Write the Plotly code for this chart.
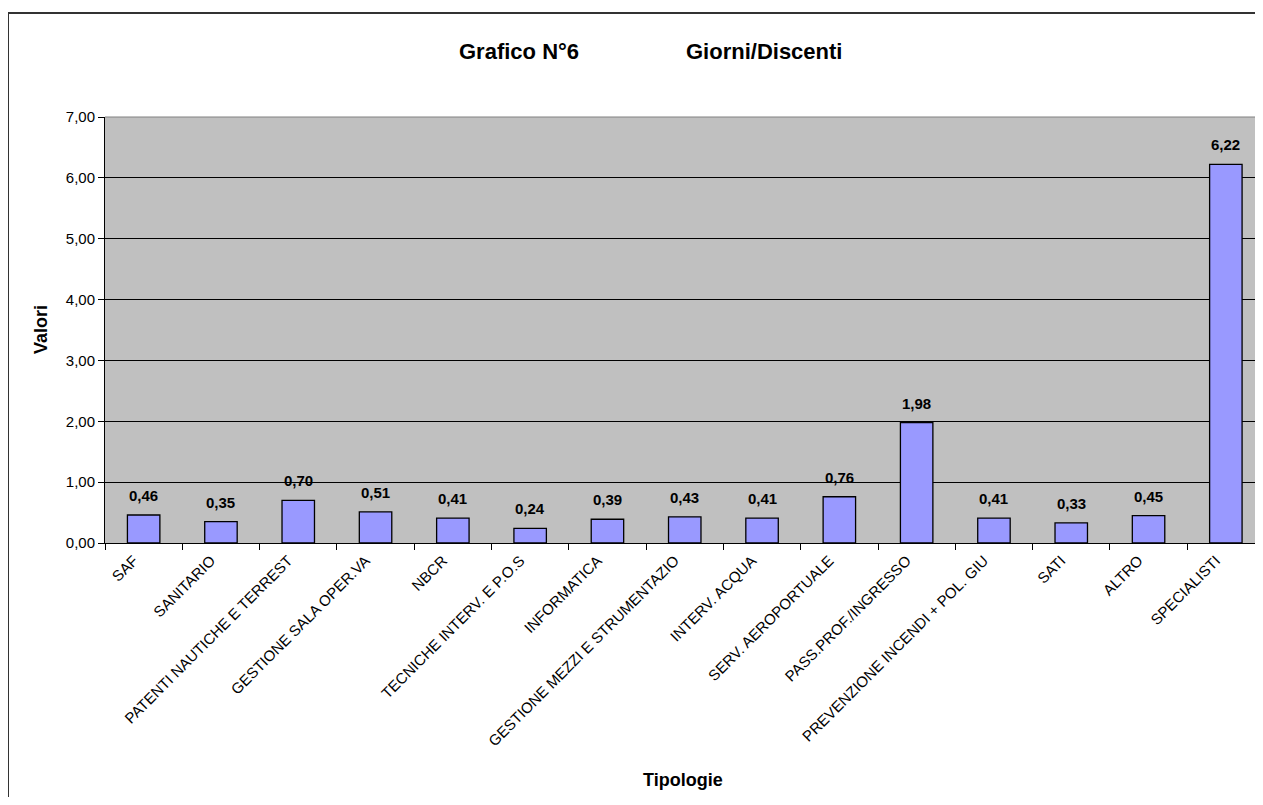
import plotly.graph_objects as go

categories = [
    "SAF", "SANITARIO", "PATENTI NAUTICHE E TERREST", "GESTIONE SALA OPER.VA",
    "NBCR", "TECNICHE INTERV. E P.O.S", "INFORMATICA", "GESTIONE MEZZI E STRUMENTAZIO",
    "INTERV. ACQUA", "SERV. AEROPORTUALE", "PASS.PROF./INGRESSO",
    "PREVENZIONE INCENDI + POL. GIU", "SATI", "ALTRO", "SPECIALISTI",
]
values = [0.46, 0.35, 0.70, 0.51, 0.41, 0.24, 0.39, 0.43, 0.41, 0.76, 1.98, 0.41, 0.33, 0.45, 6.22]
y_ticks = [0, 1, 2, 3, 4, 5, 6, 7]
title_left = "Grafico N°6"
title_right = "Giorni/Discenti"
x_title = "Tipologie"
y_title = "Valori"

FONT = "Liberation Sans, Arial, sans-serif"

# page body has an 8px margin; size the figure so that it fits without scrollbars
OFF = 8
W, H = 1247, 789
L, R, T, B = 97, 0, 109, 254
pw, ph = W - L - R, H - T - B
slot_px = 77.3
x_span = pw / slot_px

def sx(px):  # screen px -> paper x
    return (px - OFF - L) / pw

def sy(py):  # screen px -> paper y
    return (H - B - (py - OFF)) / ph

fig = go.Figure()
fig.add_trace(go.Bar(
    x=categories, y=values,
    marker=dict(color="#9999FF", line=dict(color="#000000", width=1.3)),
    hoverinfo="x+y",
))

annotations = []
for c, v in zip(categories, values):
    annotations.append(dict(
        x=c, y=v, xref="x", yref="y", yanchor="bottom", xanchor="center", yshift=9,
        text="<b>" + f"{v:.2f}".replace(".", ",") + "</b>", showarrow=False,
        font=dict(family=FONT, size=15, color="#000"),
    ))

def paper_note(text, px, py, size, angle=0):
    return dict(x=sx(px), y=sy(py), xref="paper", yref="paper",
                xanchor="center", yanchor="middle", textangle=angle,
                text="<b>" + text + "</b>", showarrow=False,
                font=dict(family=FONT, size=size, color="#000"))

annotations += [
    paper_note(title_left, 519, 51, 22),
    paper_note(title_right, 764, 51, 22),
    paper_note(x_title, 683, 780, 18),
    paper_note(y_title, 41, 330, 18, angle=-90),
]

fig.update_layout(
    width=W, height=H,
    margin=dict(l=L, r=R, t=T, b=B, autoexpand=False),
    paper_bgcolor="#FFFFFF",
    plot_bgcolor="#C0C0C0",
    separators=",.",
    bargap=0.58,
    showlegend=False,
    font=dict(family=FONT, size=15, color="#000"),
    annotations=annotations,
    shapes=[
        dict(type="rect", xref="paper", yref="paper",
             x0=sx(8), x1=sx(1320), y0=sy(860), y1=sy(13),
             line=dict(color="#333333", width=2), fillcolor="rgba(0,0,0,0)", layer="below"),
        dict(type="line", xref="paper", yref="paper", x0=0, x1=1, y0=1, y1=1,
             line=dict(color="#808080", width=1)),
    ],
)
fig.update_xaxes(
    type="category", range=[-0.5, -0.5 + x_span], tickangle=-45, tickson="boundaries",
    ticks="outside", ticklen=6, tickcolor="#000",
    showline=True, linecolor="#000", linewidth=1, showgrid=False,
    tickfont=dict(family=FONT, size=15, color="#000"),
    ticklabelshift=-10, ticklabelstandoff=2,
    automargin=False,
)
fig.update_yaxes(
    range=[0, 7], tickvals=y_ticks, tickformat=".2f",
    ticks="outside", ticklen=6, tickcolor="#000",
    showline=True, linecolor="#000", linewidth=1,
    showgrid=True, gridcolor="#000", gridwidth=1, zeroline=False,
    tickfont=dict(family=FONT, size=15, color="#000"),
    automargin=False,
)

fig.write_html("out.html")
